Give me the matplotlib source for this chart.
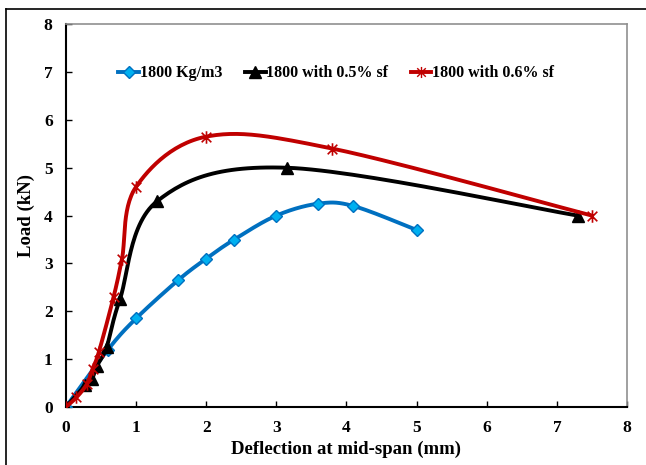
import numpy as np
import matplotlib
matplotlib.use("Agg")
import matplotlib.pyplot as plt
from matplotlib.path import Path
from matplotlib.lines import Line2D

# Data
blue_x = [0, 0.6, 1.0, 1.6, 2.0, 2.4, 3.0, 3.6, 4.1, 5.0]
blue_y = [0, 1.2, 1.85, 2.65, 3.1, 3.5, 4.0, 4.25, 4.2, 3.7]
black_x = [0, 0.27, 0.37, 0.44, 0.58, 0.77, 1.3, 3.15, 7.3]
black_y = [0, 0.45, 0.58, 0.85, 1.25, 2.25, 4.3, 5.0, 4.0]
red_x = [0, 0.15, 0.3, 0.38, 0.47, 0.68, 0.8, 1.0, 2.0, 3.8, 7.5]
red_y = [0, 0.2, 0.48, 0.8, 1.15, 2.3, 3.1, 4.6, 5.65, 5.4, 4.0]
labels = ["1800 Kg/m3", "1800 with 0.5% sf", "1800 with 0.6% sf"]
x_ticks = [0, 1, 2, 3, 4, 5, 6, 7, 8]
y_ticks = [0, 1, 2, 3, 4, 5, 6, 7, 8]

plt.rcParams['font.family'] = ['Liberation Serif', 'DejaVu Serif']
plt.rcParams['font.weight'] = 'bold'


def smooth(x, y, n=30):
    # Catmull-Rom style smoothing (like spreadsheet smoothed lines)
    x = np.asarray(x, float); y = np.asarray(y, float)
    px = np.concatenate([[x[0]], x, [x[-1]]])
    py = np.concatenate([[y[0]], y, [y[-1]]])
    ox, oy = [], []
    for i in range(1, len(px) - 2):
        p0 = np.array([px[i - 1], py[i - 1]]); p1 = np.array([px[i], py[i]])
        p2 = np.array([px[i + 1], py[i + 1]]); p3 = np.array([px[i + 2], py[i + 2]])
        c1 = p1 + (p2 - p0) / 6.0
        c2 = p2 - (p3 - p1) / 6.0
        t = np.linspace(0, 1, n)[:, None]
        b = ((1 - t) ** 3) * p1 + 3 * ((1 - t) ** 2) * t * c1 + 3 * (1 - t) * t ** 2 * c2 + t ** 3 * p2
        ox.extend(b[:, 0]); oy.extend(b[:, 1])
    return ox, oy


star = Path([(-1, -1), (1, 1), (-1, 1), (1, -1), (0, -1.3), (0, 1.3)],
            [Path.MOVETO, Path.LINETO, Path.MOVETO, Path.LINETO, Path.MOVETO, Path.LINETO])

fig = plt.figure(figsize=(6.46, 4.65), dpi=100)
ax = fig.add_axes([0.102, 0.1247, 0.8686, 0.8233])

blue = '#0070C0'; red = '#C00000'

sx, sy = smooth(blue_x, blue_y)
ax.plot(sx, sy, color=blue, lw=2.8, zorder=2, solid_capstyle='round')
ax.plot(blue_x, blue_y, ls='none', marker='D', ms=6.5, mfc='#00B0F0', mec=blue, mew=1, zorder=3)

sx, sy = smooth(black_x, black_y)
ax.plot(sx, sy, color='black', lw=2.8, zorder=4, solid_capstyle='round')
ax.plot(black_x, black_y, ls='none', marker='^', ms=8, color='black', zorder=5)

sx, sy = smooth(red_x, red_y)
ax.plot(sx, sy, color=red, lw=2.8, zorder=6, solid_capstyle='round')
ax.plot(red_x, red_y, ls='none', marker=star, ms=9, mec=red, mfc='none', mew=1.2, zorder=7)

ax.set_xlim(0, 8)
ax.set_ylim(0, 8)
ax.set_xticks(x_ticks)
ax.set_yticks(y_ticks)
ax.tick_params(direction='in', length=4, width=1, labelsize=12.5, pad=9.5)
for lab in ax.get_xticklabels() + ax.get_yticklabels():
    lab.set_fontweight('bold')
for s in ['left', 'bottom']:
    ax.spines[s].set_color('black'); ax.spines[s].set_linewidth(1.5)
for s in ['top', 'right']:
    ax.spines[s].set_color('#909090'); ax.spines[s].set_linewidth(1.2)

ax.set_xlabel('Deflection at mid-span (mm)', fontsize=13.5, fontweight='bold', labelpad=3)
ax.set_ylabel('Load (kN)', fontsize=13.5, fontweight='bold', labelpad=6)

handles = [
    Line2D([], [], color=blue, lw=2.8, marker='D', ms=6, mfc='#00B0F0', mec=blue),
    Line2D([], [], color='black', lw=2.8, marker='^', ms=8),
    Line2D([], [], color=red, lw=2.8, marker=star, ms=8, mec=red, mfc='none'),
]
ax.legend(handles, labels, loc='center', bbox_to_anchor=(0.482, 0.872), ncol=3, frameon=False,
          prop={'weight': 'bold', 'size': 11.5}, handlelength=1.3, handletextpad=0.05,
          columnspacing=1.4)

# outer frame lines (top and left)
fig.add_artist(Line2D([6 / 646, 6 / 646], [0, 1 - 9 / 465], transform=fig.transFigure, color='black', lw=1.2))
fig.add_artist(Line2D([6 / 646, 1], [1 - 9 / 465, 1 - 9 / 465], transform=fig.transFigure, color='black', lw=1.2))

fig.savefig('out.png', dpi=100)
